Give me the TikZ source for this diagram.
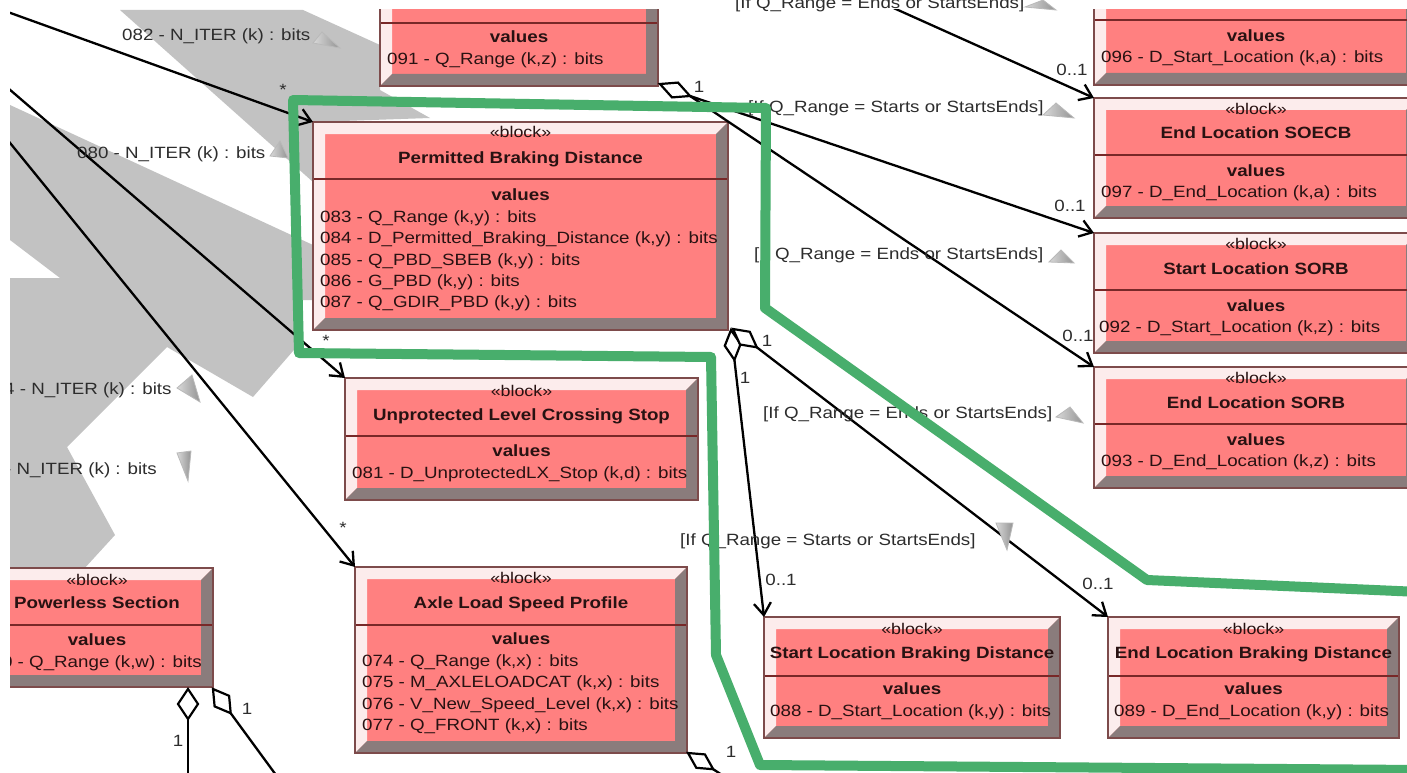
\documentclass[tikz,border=0pt]{standalone}
\usepackage{fontspec}
\setmainfont{Liberation Sans}[FakeStretch=1.15]
\usetikzlibrary{arrows.meta,calc}

\definecolor{blockpink}{RGB}{255,128,128}
\definecolor{bevelL}{RGB}{252,236,236}
\definecolor{bevelD}{RGB}{138,124,124}
\definecolor{edgeC}{RGB}{125,75,75}
\definecolor{sepC}{RGB}{120,40,40}
\definecolor{txtC}{RGB}{40,18,18}
\definecolor{lblC}{RGB}{45,45,45}
\definecolor{bgGray}{RGB}{194,194,194}
\definecolor{loopGreen}{RGB}{72,174,108}

% a beveled SysML block: name, x1, y1, x2, y2, y of the compartment rule
\newcommand{\mkblock}[6]{%
  \node[blockbody, minimum width={(#4)-(#2)}, minimum height={(#5)-(#3)}] (#1) at ({((#2)+(#4))/2},{((#3)+(#5))/2}) {};
  \fill[bevlight] (#2,#3) -- (#4,#3) -- ({(#4)-12},{(#3)+12}) -- ({(#2)+12},{(#3)+12}) -- ({(#2)+12},{(#5)-12}) -- (#2,#5) -- cycle;
  \fill[bevdark] (#4,#5) -- (#4,#3) -- ({(#4)-12},{(#3)+12}) -- ({(#4)-12},{(#5)-12}) -- ({(#2)+12},{(#5)-12}) -- (#2,#5) -- cycle;
  \draw[sepline] (#2,#6) -- (#4,#6);
  \draw[blockedge] (#2,#3) rectangle (#4,#5);
}

\begin{document}
\begin{tikzpicture}[x=1pt,y=-1pt,
  blockbody/.style={inner sep=0pt, outer sep=0pt, fill=blockpink},
  bevlight/.style={fill=bevelL},
  bevdark/.style={fill=bevelD},
  blockedge/.style={draw=edgeC, line width=1.1pt},
  sepline/.style={draw=sepC, line width=1.4pt},
  stereo/.style={anchor=base, inner sep=0pt, font=\fontsize{15.5}{18}\selectfont, text=txtC},
  btitle/.style={anchor=base, inner sep=0pt, font=\fontsize{16.3}{19}\selectfont\bfseries, text=txtC},
  battr/.style={anchor=base west, inner sep=0pt, font=\fontsize{16.3}{19}\selectfont, text=txtC},
  cond/.style={anchor=base west, inner sep=0pt, font=\fontsize{16.3}{19}\selectfont, text=lblC},
  mult/.style={inner sep=0pt, font=\fontsize{16.3}{19}\selectfont, text=lblC},
  assoc/.style={draw=black, line width=2.3pt, -{Straight Barb[length=12pt,width=17pt]}},
  plainline/.style={draw=black, line width=2.3pt},
  owner/.style={draw=black, fill=white, line width=2.2pt, line join=miter},
  dirmark/.style={left color=gray!30, right color=gray!85, draw=gray!55, line width=0.8pt},
  bgshape/.style={fill=bgGray},
  greenloop/.style={draw=loopGreen, line width=10pt, line join=round, line cap=round}
]
\useasboundingbox (0,0) rectangle (1407,773);
\fill[white] (0,0) rectangle (1407,773);

\begin{scope}
\clip (10,10) rectangle (1407,773);

% grey backdrop shapes
\fill[bgshape] (120,10) -- (303,10) -- (380,45) -- (380,90) -- (430,118) -- (313,122) -- (313,182) -- cycle;
\fill[bgshape] (10,105) -- (313,245) -- (313,300) -- (300,300) -- (300,343) -- (253,397) -- (167,347)
  -- (67,447) -- (115,535) -- (83,570) -- (10,570) -- (10,278) -- (60,278) -- (10,240) -- cycle;

% blocks
\mkblock{qrz}{380}{-60}{658}{86}{23}
\node[btitle] (qrz-v) at (519,43) {values};
\node[battr] (qrz-a1) at (387,65) {091 - Q\_Range (k,z) : bits};

\mkblock{sla}{1094}{-60}{1418}{85}{20}
\node[btitle] (sla-v) at (1256,42) {values};
\node[battr] (sla-a1) at (1101,63) {096 - D\_Start\_Location (k,a) : bits};

\mkblock{soecb}{1094}{98}{1418}{218}{155}
\node[stereo] (soecb-s) at (1256,114) {«block»};
\node[btitle] (soecb-t) at (1256,139) {End Location SOECB};
\node[btitle] (soecb-v) at (1256,176) {values};
\node[battr] (soecb-a1) at (1101,197) {097 - D\_End\_Location (k,a) : bits};

\mkblock{sorb}{1094}{233}{1418}{353}{290}
\node[stereo] (sorb-s) at (1256,249) {«block»};
\node[btitle] (sorb-t) at (1256,274) {Start Location SORB};
\node[btitle] (sorb-v) at (1256,311) {values};
\node[battr] (sorb-a1) at (1099,332) {092 - D\_Start\_Location (k,z) : bits};

\mkblock{esorb}{1094}{367}{1418}{488}{424}
\node[stereo] (esorb-s) at (1256,383) {«block»};
\node[btitle] (esorb-t) at (1256,408) {End Location SORB};
\node[btitle] (esorb-v) at (1256,445) {values};
\node[battr] (esorb-a1) at (1101,466) {093 - D\_End\_Location (k,z) : bits};

\mkblock{pbd}{313}{122}{728}{330}{179}
\node[stereo] (pbd-s) at (520.5,138) {«block»};
\node[btitle] (pbd-t) at (520.5,163) {Permitted Braking Distance};
\node[btitle] (pbd-v) at (520.5,200) {values};
\node[battr] (pbd-a1) at (320,222) {083 - Q\_Range (k,y) : bits};
\node[battr] (pbd-a2) at (320,243) {084 - D\_Permitted\_Braking\_Distance (k,y) : bits};
\node[battr] (pbd-a3) at (320,265) {085 - Q\_PBD\_SBEB (k,y) : bits};
\node[battr] (pbd-a4) at (320,286) {086 - G\_PBD (k,y) : bits};
\node[battr] (pbd-a5) at (320,307) {087 - Q\_GDIR\_PBD (k,y) : bits};

\mkblock{ulcs}{345}{378}{698}{500}{436}
\node[stereo] (ulcs-s) at (521.5,396) {«block»};
\node[btitle] (ulcs-t) at (521.5,420) {Unprotected Level Crossing Stop};
\node[btitle] (ulcs-v) at (521.5,456) {values};
\node[battr] (ulcs-a1) at (352,478) {081 - D\_UnprotectedLX\_Stop (k,d) : bits};

\mkblock{alsp}{355}{567}{687}{753}{625}
\node[stereo] (alsp-s) at (521,583) {«block»};
\node[btitle] (alsp-t) at (521,608) {Axle Load Speed Profile};
\node[btitle] (alsp-v) at (521,644) {values};
\node[battr] (alsp-a1) at (362,666) {074 - Q\_Range (k,x) : bits};
\node[battr] (alsp-a2) at (362,687) {075 - M\_AXLELOADCAT (k,x) : bits};
\node[battr] (alsp-a3) at (362,709) {076 - V\_New\_Speed\_Level (k,x) : bits};
\node[battr] (alsp-a4) at (362,730) {077 - Q\_FRONT (k,x) : bits};

\mkblock{pws}{-19}{568}{213}{687}{625}
\node[stereo] (pws-s) at (97,585) {«block»};
\node[btitle] (pws-t) at (97,608) {Powerless Section};
\node[btitle] (pws-v) at (97,645) {values};
\node[battr, anchor=base east] (pws-a1) at (202,667) {0 - Q\_Range (k,w) : bits};

\mkblock{slbd}{764}{617}{1060}{738}{676}
\node[stereo] (slbd-s) at (912,634) {«block»};
\node[btitle] (slbd-t) at (912,658) {Start Location Braking Distance};
\node[btitle] (slbd-v) at (912,694) {values};
\node[battr] (slbd-a1) at (770,716) {088 - D\_Start\_Location (k,y) : bits};

\mkblock{elbd}{1108}{617}{1399}{738}{676}
\node[stereo] (elbd-s) at (1253.5,634) {«block»};
\node[btitle] (elbd-t) at (1253.5,658) {End Location Braking Distance};
\node[btitle] (elbd-v) at (1253.5,694) {values};
\node[battr] (elbd-a1) at (1114,716) {089 - D\_End\_Location (k,y) : bits};

% loose ends of connectors that leave the view
\coordinate (in082) at (-20,2);
\coordinate (in080) at (-20,64);
\coordinate (inalsp) at (-20,106);
\coordinate (intop) at (849,-12);
\coordinate (qrz-own) at (690,96);
\coordinate (pbd-own1) at (734.4,359.8);
\coordinate (pbd-own2) at (756.8,347.3);
\coordinate (pws-own1) at (188,719);
\coordinate (pws-own2) at (230.7,713.2);
\coordinate (pws-out1) at (188,790);
\coordinate (pws-out2) at (287,790);
\coordinate (alsp-own1) at (713.2,769.2);
\coordinate (alsp-out1) at (745,790);

% associations
\draw[assoc] (in082) -- (pbd.north west);
\draw[assoc] (in080) -- (ulcs.north west);
\draw[assoc] (inalsp) -- (alsp.north west);
\draw[assoc] (intop) -- (soecb.north west);
\draw[assoc] (qrz-own) -- (sorb.north west);
\draw[assoc] (qrz-own) -- (esorb.north west);
\draw[assoc] (pbd-own1) -- (slbd.north west);
\draw[assoc] (pbd-own2) -- (elbd.north west);
\draw[plainline] (pws-own1) -- (pws-out1);
\draw[plainline] (pws-own2) -- (pws-out2);
\draw[plainline] (alsp-own1) -- (alsp-out1);

% aggregation diamonds at the owning ends
\draw[owner] (660,84) -- (678,82.6) -- (qrz-own) -- (672,97.4) -- cycle;
\draw[owner] (731,330) -- (740.6,344.0) -- (pbd-own1) -- (724.8,345.8) -- cycle;
\draw[owner] (733,329) -- (749.8,331.8) -- (pbd-own2) -- (740.0,344.5) -- cycle;
\draw[owner] (188,689) -- (198,704) -- (pws-own1) -- (178,704) -- cycle;
\draw[owner] (213,689) -- (229.1,695.8) -- (pws-own2) -- (214.6,706.4) -- cycle;
\draw[owner] (688,753) -- (704.9,754.4) -- (alsp-own1) -- (696.3,767.8) -- cycle;

% multiplicities
\node[mult] (m-082) at (283,90) {*};
\node[mult] (m-080) at (326,341) {*};
\node[mult] (m-alsp) at (343,528) {*};
\node[mult] (m-qrz) at (699,87) {1};
\node[mult] (m-soecb) at (1072,70) {0..1};
\node[mult] (m-sorb) at (1070,206) {0..1};
\node[mult] (m-esorb) at (1078,336) {0..1};
\node[mult] (m-pbd1) at (767,341) {1};
\node[mult] (m-pbd2) at (745,378) {1};
\node[mult] (m-slbd) at (781,580) {0..1};
\node[mult] (m-elbd) at (1098,584) {0..1};
\node[mult] (m-pws1) at (178,741) {1};
\node[mult] (m-pws2) at (247,709) {1};
\node[mult] (m-alsp1) at (731,752) {1};

% association names and guards with their direction marks
\node[cond] (n082) at (122,41) {082 - N\_ITER (k) : bits};
\shade[dirmark] (313,43) -- (322,32) -- (340,48) -- cycle;
\node[cond] (n080) at (77,158) {080 - N\_ITER (k) : bits};
\shade[dirmark] (270,156) -- (280,141) -- (288,158) -- cycle;
\node[cond] (n4) at (4,394) {4 - N\_ITER (k) : bits};
\shade[dirmark] (177,388) -- (192,375) -- (200,402) -- cycle;
\node[cond, anchor=base east] (nd) at (157,474) {- N\_ITER (k) : bits};
\shade[dirmark] (177,453) -- (191,451) -- (188,481) -- cycle;

\node[cond] (g1) at (748,113) {[If Q\_Range = Starts or StartsEnds]};
\shade[dirmark] (1043,115) -- (1056,103) -- (1074,118) -- cycle;
\node[cond] (g2) at (754,259) {[If Q\_Range = Ends or StartsEnds]};
\shade[dirmark] (1049,262) -- (1061,250) -- (1074,263) -- cycle;
\node[cond] (g3) at (763,418) {[If Q\_Range = Ends or StartsEnds]};
\shade[dirmark] (1056,417) -- (1070,407) -- (1083,423) -- cycle;
\node[cond] (g4) at (680,545) {[If Q\_Range = Starts or StartsEnds]};
\shade[dirmark] (996,523) -- (1013,523) -- (1007,550) -- cycle;
\end{scope}

% guard at the top edge, partly out of view
\node[cond] (g0) at (735,9) {[If Q\_Range = Ends or StartsEnds]};
\shade[dirmark] (1025,7) -- (1043,0) -- (1056,10) -- cycle;

% highlighted region
\draw[greenloop] (1420,592) -- (1147,580) -- (765,308) -- (766,108) -- (293,100) -- (299,353)
  -- (711,357) -- (716,655) -- (760,765) -- (1420,770);
\end{tikzpicture}
\end{document}
